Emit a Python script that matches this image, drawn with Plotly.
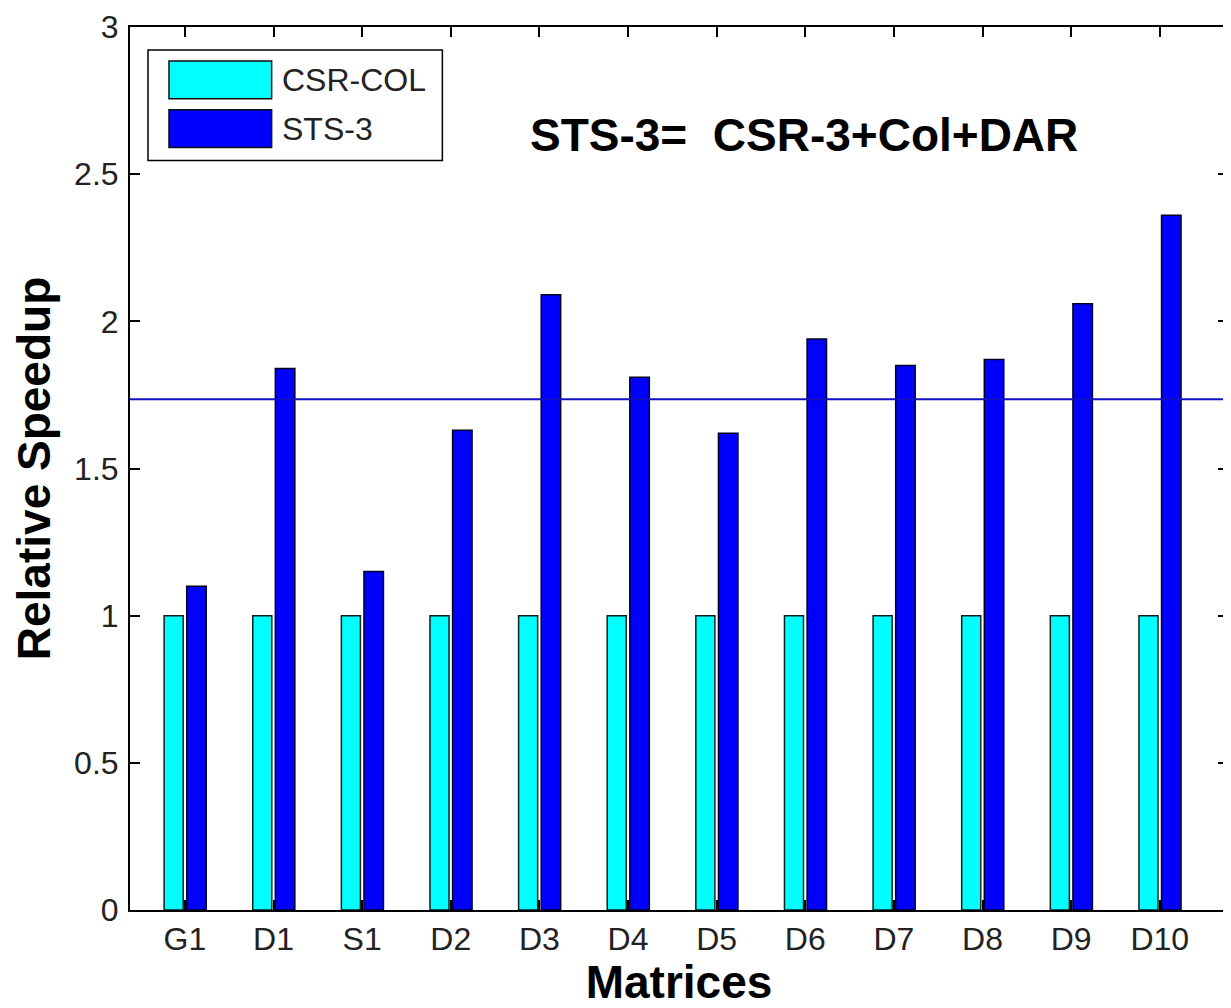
import plotly.graph_objects as go

categories = ["G1", "D1", "S1", "D2", "D3", "D4", "D5", "D6", "D7", "D8", "D9", "D10"]
csr_col = [1.0, 1.0, 1.0, 1.0, 1.0, 1.0, 1.0, 1.0, 1.0, 1.0, 1.0, 1.0]
sts_3 = [1.10, 1.84, 1.15, 1.63, 2.09, 1.81, 1.62, 1.94, 1.85, 1.87, 2.06, 2.36]
series_names = ["CSR-COL", "STS-3"]
series_colors = ["#00FFFF", "#0000FF"]
avg_line = 1.735
y_ticks = [0, 0.5, 1, 1.5, 2, 2.5, 3]

TICK_FONT = "Liberation Sans, Arial, sans-serif"
BOLD_FONT = "Liberation Sans, Arial, sans-serif"

fig = go.Figure()
fig.add_trace(go.Bar(
    x=categories, y=csr_col, name=series_names[0],
    marker=dict(color=series_colors[0], line=dict(color="#102020", width=1.5)),
    width=0.215, offset=-0.235,
))
fig.add_trace(go.Bar(
    x=categories, y=sts_3, name=series_names[1],
    marker=dict(color=series_colors[1], line=dict(color="#000020", width=1.5)),
    width=0.22, offset=0.02,
))

fig.add_shape(type="line", xref="paper", x0=0, x1=1, yref="y", y0=avg_line, y1=avg_line,
              line=dict(color="#1010C0", width=2), layer="above")

# legend box (styled like the MATLAB legend)
fig.add_shape(type="rect", xref="paper", yref="paper", x0=0.0164, x1=0.2845, y0=0.8488, y1=0.974,
              line=dict(color="black", width=1.5), fillcolor="white", layer="above")
swatch_y = [(0.9187, 0.9616), (0.8634, 0.9063)]
text_y = [0.9402, 0.8850]
for name, color, (ya, yb), ty in zip(series_names, series_colors, swatch_y, text_y):
    fig.add_shape(type="rect", xref="paper", yref="paper", x0=0.0355, x1=0.129, y0=ya, y1=yb,
                  line=dict(color="#101010", width=1.5), fillcolor=color, layer="above")
    fig.add_annotation(text=name, xref="paper", yref="paper", x=0.137, y=ty,
                       xanchor="left", yanchor="middle", showarrow=False,
                       font=dict(family=TICK_FONT, size=32, color="#222"))

fig.add_annotation(text="<b>STS-3=  CSR-3+Col+DAR</b>", xref="paper", yref="paper",
                   x=0.6136, y=0.878, xanchor="center", yanchor="middle", showarrow=False,
                   font=dict(family=BOLD_FONT, size=46, color="black"))

fig.update_layout(
    width=1223, height=1000,
    margin=dict(l=122, r=1, t=13, b=90),
    paper_bgcolor="white", plot_bgcolor="white",
    barmode="group",
    showlegend=False,
    font=dict(family=TICK_FONT, color="#222"),
)

fig.update_xaxes(
    type="category", range=[-0.62, 11.77],
    showline=True, linecolor="black", linewidth=2, mirror="ticks",
    ticks="inside", ticklen=10, tickcolor="black", tickwidth=1.5,
    tickfont=dict(family=TICK_FONT, size=32, color="#222"),
    ticklabelstandoff=0,
    showgrid=False, zeroline=False,
    title=dict(text="<b>Matrices</b>", font=dict(family=BOLD_FONT, size=46, color="black"), standoff=17),
)
fig.update_yaxes(
    range=[0, 3], tickvals=y_ticks, ticktext=[("%g" % v) for v in y_ticks],
    showline=True, linecolor="black", linewidth=2, mirror="ticks",
    ticks="inside", ticklen=10, tickcolor="black", tickwidth=1.5,
    tickfont=dict(family=TICK_FONT, size=32, color="#222"),
    ticklabelstandoff=3, ticklabeloverflow="allow",
    showgrid=False, zeroline=False,
    title=dict(text="<b>Relative Speedup</b>", font=dict(family=BOLD_FONT, size=46, color="black"), standoff=14),
)

fig.write_html("out.html")
